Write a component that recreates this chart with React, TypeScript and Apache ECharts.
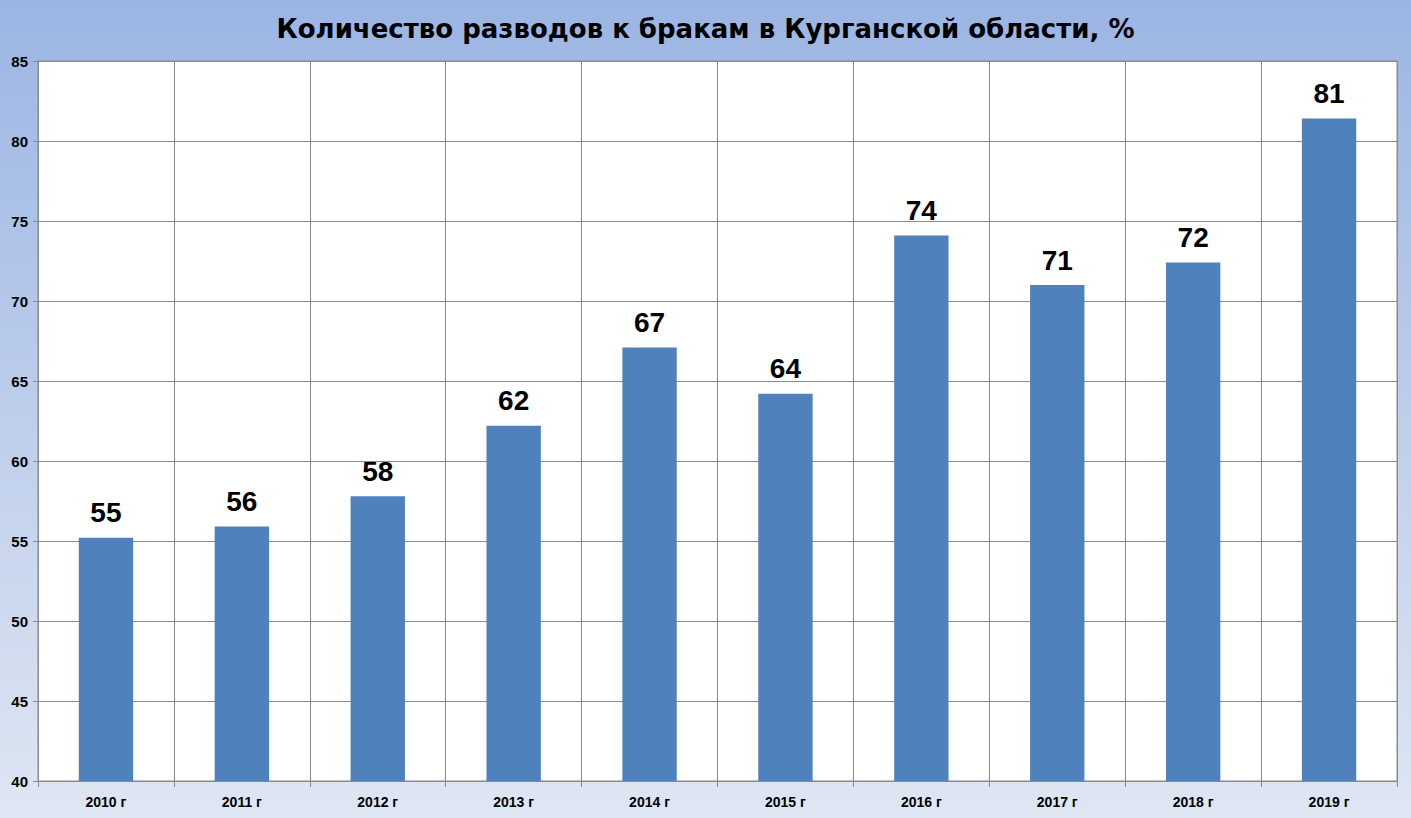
import React, { useEffect, useRef } from "react";
import * as echarts from "echarts";

const categories = ["2010 г", "2011 г", "2012 г", "2013 г", "2014 г", "2015 г", "2016 г", "2017 г", "2018 г", "2019 г"];
const values = [55.2, 55.9, 57.8, 62.2, 67.1, 64.2, 74.1, 71.0, 72.4, 81.4];
const yTicks = { min: 40, max: 85, interval: 5 };
const title = "Количество разводов к бракам в Курганской области, %";

const FONT = "'Liberation Sans', Arial, sans-serif";
const TITLE_FONT = "'DejaVu Sans', 'Liberation Sans', sans-serif";

export default function App() {
  const ref = useRef<HTMLDivElement>(null);
  useEffect(() => {
    if (!ref.current) return;
    const chart = echarts.init(ref.current, null, { renderer: "svg" });
    chart.setOption({
      animation: false,
      backgroundColor: new echarts.graphic.LinearGradient(0, 0, 0, 1, [
        { offset: 0, color: "#9bb5e3" },
        { offset: 1, color: "#dfe6f3" },
      ]),
      title: {
        text: title,
        left: "center",
        top: 11,
        textStyle: { fontFamily: TITLE_FONT, fontWeight: "bold", fontSize: 26, color: "#000" },
      },
      grid: {
        left: 38,
        right: 14,
        top: 61,
        bottom: 37,
        show: true,
        backgroundColor: "#ffffff",
        borderColor: "#8a8a8a",
        borderWidth: 1,
      },
      xAxis: {
        type: "category",
        data: categories,
        boundaryGap: true,
        axisLine: { show: true, lineStyle: { color: "#8a8a8a", width: 1 } },
        axisTick: { show: true, length: 6, lineStyle: { color: "#8a8a8a" } },
        splitLine: { show: true, lineStyle: { color: "#8a8a8a", width: 1 } },
        axisLabel: { fontFamily: FONT, fontWeight: "bold", fontSize: 14, color: "#000", margin: 14 },
      },
      yAxis: {
        type: "value",
        min: yTicks.min,
        max: yTicks.max,
        interval: yTicks.interval,
        axisLine: { show: true, lineStyle: { color: "#8a8a8a", width: 1 } },
        axisTick: { show: true, length: 5, lineStyle: { color: "#8a8a8a" } },
        splitLine: { show: true, lineStyle: { color: "#8a8a8a", width: 1 } },
        axisLabel: { fontFamily: FONT, fontWeight: "bold", fontSize: 15, color: "#000", margin: 10 },
      },
      series: [
        {
          type: "bar",
          data: values,
          barWidth: "40%",
          itemStyle: { color: "#4f81bd" },
          label: {
            show: true,
            position: "top",
            distance: 11,
            fontFamily: FONT,
            fontWeight: "bold",
            fontSize: 28,
            color: "#000",
            formatter: (p: any) => String(Math.round(p.value)),
          },
        },
      ],
    });
    return () => chart.dispose();
  }, []);
  return (
    <div
      ref={ref}
      style={{ position: "fixed", left: 0, top: 0, width: 1411, height: 818 }}
    />
  );
}
